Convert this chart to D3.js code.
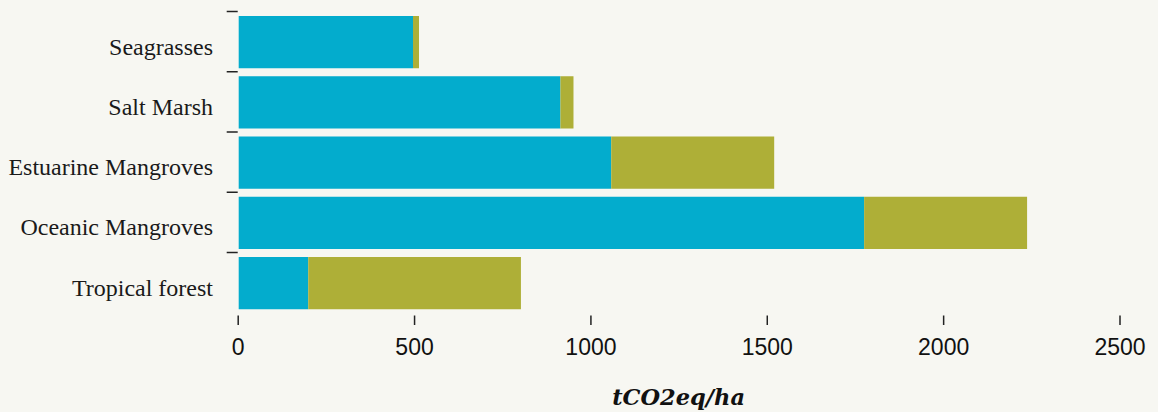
<!DOCTYPE html>
<html>
<head>
<meta charset="utf-8">
<script src="https://cdn.jsdelivr.net/npm/d3@7"></script>
<style>
    html, body { margin: 0; padding: 0; background: #f7f7f2; }
    svg { display: block; }
</style>
</head>
<body>
<svg id="chart"></svg>
<script>
    // Data
    const habitats = ['Seagrasses', 'Salt Marsh', 'Estuarine Mangroves', 'Oceanic Mangroves', 'Tropical forest'];
    const soilCarbon = [497, 915, 1059, 1776, 200];
    const biomassCarbon = [17, 37, 462, 462, 603];
    const xTicks = [0, 500, 1000, 1500, 2000, 2500];
    const axisTitle = 'tCO2eq/ha';

    // Set standards
    const width = 1158;
    const height = 412;
    const margin = {top: 12, right: 38.5, bottom: 98.75, left: 237.7};

    const svg = d3.select('#chart')
        .attr('width', width)
        .attr('height', height);

    const x = d3.scaleLinear()
        .domain([0, 2500])
        .range([margin.left, width - margin.right]);

    const y = d3.scaleBand()
        .domain(habitats)
        .range([margin.top, height - margin.bottom]);

    const gap = 4;

    // Stack the two series
    const rows = habitats.map((h, i) => ({habitat: h, soil: soilCarbon[i], biomass: biomassCarbon[i]}));
    const stack = d3.stack().keys(['soil', 'biomass'])(rows);
    const color = d3.scaleOrdinal(['soil', 'biomass'], ['#03accd', '#aeaf37']);

    svg.append('g')
        .selectAll('g')
        .data(stack)
        .join('g')
        .attr('fill', d => color(d.key))
        .selectAll('rect')
        .data(d => d)
        .join('rect')
        .attr('x', d => x(d[0]) + (d[0] === 0 ? 1 : 0))
        .attr('y', d => y(d.data.habitat) + gap)
        .attr('width', d => x(d[1]) - x(d[0]) - (d[0] === 0 ? 1 : 0))
        .attr('height', y.bandwidth() - gap * 2);

    // Y axis: ticks at band start, labels centred on bars
    const yAxis = svg.append('g');
    yAxis.selectAll('line')
        .data(habitats)
        .join('line')
        .attr('x1', margin.left - 11)
        .attr('x2', margin.left)
        .attr('y1', d => y(d) - 0.5)
        .attr('y2', d => y(d) - 0.5)
        .attr('stroke', '#222')
        .attr('stroke-width', 1.5);

    yAxis.selectAll('text')
        .data(habitats)
        .join('text')
        .attr('x', 213)
        .attr('y', d => y(d) + y.bandwidth() / 2 + 12.5)
        .attr('text-anchor', 'end')
        .attr('font-family', '"Liberation Serif", serif')
        .attr('font-size', '24px')
        .attr('fill', '#1a1a1a')
        .text(d => d);

    // X axis without domain line
    const xAxis = svg.append('g')
        .attr('transform', `translate(0,${315.5})`)
        .call(d3.axisBottom(x).tickValues(xTicks).tickSize(9.5).tickPadding(14).tickFormat(d3.format('d')));
    xAxis.select('.domain').remove();
    xAxis.selectAll('line').attr('stroke', '#222').attr('stroke-width', 1.5);
    xAxis.selectAll('text')
        .attr('font-family', '"Liberation Sans", Arial, sans-serif')
        .attr('font-size', '23px')
        .attr('fill', '#111');

    // Axis title
    svg.append('text')
        .attr('x', (x.range()[0] + x.range()[1]) / 2)
        .attr('y', 405)
        .attr('text-anchor', 'middle')
        .attr('font-family', '"DejaVu Serif", serif')
        .attr('font-size', '22.5px')
        .attr('font-weight', 'bold')
        .attr('font-style', 'italic')
        .attr('fill', '#111')
        .text(axisTitle);
</script>
</body>
</html>
